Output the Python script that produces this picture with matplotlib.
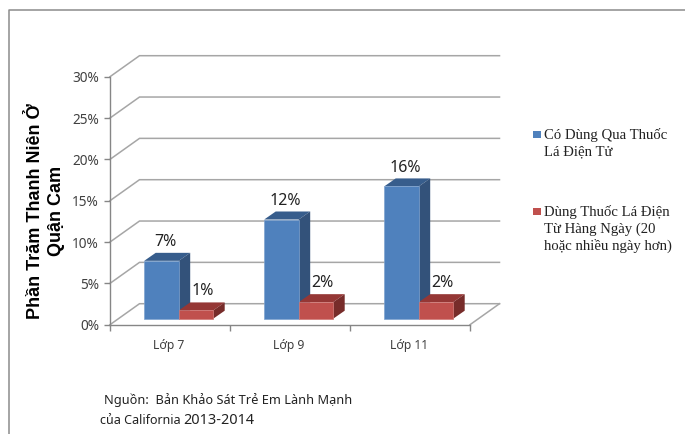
import matplotlib
matplotlib.use("Agg")
import matplotlib.pyplot as plt
from matplotlib.patches import Polygon, Rectangle
from matplotlib.lines import Line2D

categories = ["Lớp 7", "Lớp 9", "Lớp 11"]
series_names = ["Có Dùng Qua Thuốc\nLá Điện Tử",
                "Dùng Thuốc Lá Điện\nTừ Hàng Ngày (20\nhoặc nhiều ngày hơn)"]
ever_used = [7, 12, 16]
daily_use = [1, 2, 2]
y_ticks = [0, 5, 10, 15, 20, 25, 30]
y_title = "Phần Trăm Thanh Niên Ở\nQuận Cam"

W, H = 685, 434
fig = plt.figure(figsize=(W / 100, H / 100), dpi=100, facecolor="white")
L, R, T, B = 110, 470, 76.7, 324.7
ax = fig.add_axes([L / W, 1 - B / H, (R - L) / W, (B - T) / H], facecolor="none")
ax.set_xlim(0, 3)
ax.set_ylim(0, 30)

GRID = "#a6a6a6"
AXIS = "#868686"
TXT = "#404040"
sans = "Noto Sans"

px_x = 3 / (R - L)
px_y = 30 / (B - T)
wall_dx, wall_dy = 29.5 * px_x, 21 * px_y

for v in y_ticks:
    ax.plot([0, wall_dx, 3 + wall_dx], [v, v + wall_dy, v + wall_dy],
            color=GRID, lw=1.1, clip_on=False, zorder=1, solid_joinstyle="miter")
ax.plot([3, 3 + wall_dx], [0, wall_dy], color=GRID, lw=1.1, clip_on=False, zorder=1)

bar_w = 34.5 * px_x
base_dx, base_dy = 8.7 * px_x, 6 * px_y
dep_x, dep_y = 11.5 * px_x, 8 * px_y
styles = [("#4f81bd", "#375d8c", "#33527a"), ("#c0504d", "#953735", "#772c2a")]


def draw_bar(x0, val, cols):
    front, top, side = cols
    y0 = base_dy
    y1 = base_dy + val
    x1 = x0 + bar_w
    ax.bar(x0, val, width=bar_w, bottom=y0, align="edge", color=front,
           edgecolor="#7fa3cf" if front == "#4f81bd" else "#d07875", linewidth=0.5, zorder=4, clip_on=False)
    ax.add_patch(Polygon([(x0, y1), (x0 + dep_x, y1 + dep_y), (x1 + dep_x, y1 + dep_y), (x1, y1)],
                         closed=True, fc=top, ec="none", zorder=3, clip_on=False))
    ax.add_patch(Polygon([(x1, y0), (x1 + dep_x, y0 + dep_y), (x1 + dep_x, y1 + dep_y), (x1, y1)],
                         closed=True, fc=side, ec="none", zorder=3, clip_on=False))


for i in range(len(categories)):
    c = i + 0.5 + base_dx
    draw_bar(c - bar_w, ever_used[i], styles[0])
    draw_bar(c, daily_use[i], styles[1])
    ax.text(c - bar_w / 2 + dep_x / 2 - 2 * px_x, ever_used[i] + base_dy + dep_y + 2.5 * px_y,
            f"{ever_used[i]}%", ha="center", va="bottom", fontsize=11.5, color="#222222", family=sans, zorder=6)
    ax.text(c + bar_w / 2 + dep_x / 2 + 1 * px_x, daily_use[i] + base_dy + dep_y + 3.5 * px_y,
            f"{daily_use[i]}%", ha="center", va="bottom", fontsize=11.5, color="#222222", family=sans, zorder=6)

for s in ("top", "right"):
    ax.spines[s].set_visible(False)
for s in ("left", "bottom"):
    ax.spines[s].set_color(AXIS)
    ax.spines[s].set_linewidth(1.0)
ax.set_yticks(y_ticks, [f"{v}%" for v in y_ticks], family=sans, fontsize=9.8, color=TXT)
ax.set_xticks(range(4), [""] * 4)
ax.tick_params(axis="y", length=4, width=1, color=AXIS, pad=4)
ax.tick_params(axis="x", length=4, width=1, color=AXIS)
for i, name in enumerate(categories):
    ax.text(i + 0.5 - 1 * px_x, -20.5 * px_y, name, ha="center", va="center",
            fontsize=8.8, color=TXT, family=sans, clip_on=False)

fig.text(46 / W, 1 - 211 / H, y_title, rotation=90, ha="center", va="center", ma="center",
         family="Liberation Sans", fontweight="bold", fontsize=13, linespacing=1.3, color="black")

# legend, with each swatch level with the first line of its label
legend_tops = [128, 205]
for name, st, top in zip(series_names, styles, legend_tops):
    fig.add_artist(Rectangle((533 / W, 1 - (top + 10) / H), 7.5 / W, 7.5 / H, fc=st[0], ec="none",
                             transform=fig.transFigure))
    fig.text(544 / W, 1 - top / H, name, family="Liberation Serif", fontsize=10.6, color="#222222",
             ha="left", va="top", linespacing=1.3)

fig.text(104 / W, 1 - 400 / H, "Nguồn:  Bản Khảo Sát Trẻ Em Lành Mạnh", family=sans, fontsize=9.2,
         color="#222222", ha="left", va="center")
fig.text(100 / W, 1 - 420 / H, "của California", family=sans, fontsize=9, color="#222222", ha="left", va="center")
fig.text(183 / W, 1 - 420 / H, "2013-2014", family=sans, fontsize=10.4, color="#222222", ha="left", va="center")

fig.add_artist(Line2D([9 / W, 9 / W, 1], [0, 1 - 9.5 / H, 1 - 9.5 / H], color="#8c8c8c", lw=1.1,
                      transform=fig.transFigure))

fig.savefig("out.png", dpi=100)
